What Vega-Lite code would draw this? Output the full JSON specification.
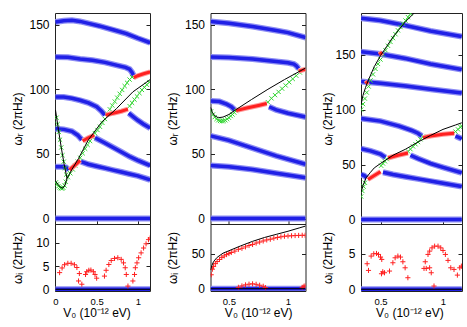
{
"$schema":"https://vega.github.io/schema/vega-lite/v6.json",
"padding":{"left":11,"top":12,"right":4,"bottom":4},
"spacing":14.5,
"config":{
 "view":{"stroke":"#222","strokeWidth":1},
 "axis":{"grid":false,"domain":false,"ticks":true,"tickSize":-4,"tickColor":"#222","labelFont":"Liberation Sans","labelFontSize":12,"labelColor":"#000","titleFont":"Liberation Sans","titleFontSize":12,"titleFontWeight":"normal","titleColor":"#000","labelFlush":false,"minExtent":0},
 "axisX":{"labelFontSize":9.5,"labelPadding":9},
 "axisY":{"labelPadding":10}
},
"datasets":{
"p1t":[
{"g":"b","k":"A","x":0,"y":152},{"g":"b","k":"A","x":0.1,"y":153},{"g":"b","k":"A","x":0.2,"y":153.3},{"g":"b","k":"A","x":0.3,"y":152.5},{"g":"b","k":"A","x":0.4,"y":151},{"g":"b","k":"A","x":0.53,"y":149},{"g":"b","k":"A","x":0.7,"y":146},{"g":"b","k":"A","x":0.86,"y":143},{"g":"b","k":"A","x":1,"y":139.5},{"g":"b","k":"A","x":1.15,"y":136},
{"g":"b","k":"B","x":0,"y":125},{"g":"b","k":"B","x":0.15,"y":124.8},{"g":"b","k":"B","x":0.3,"y":123.5},{"g":"b","k":"B","x":0.45,"y":122.5},{"g":"b","k":"B","x":0.6,"y":120.8},{"g":"b","k":"B","x":0.75,"y":118.5},{"g":"b","k":"B","x":0.85,"y":117},{"g":"b","k":"B","x":0.9,"y":115.5},{"g":"b","k":"B","x":0.93,"y":113},{"g":"b","k":"B","x":0.95,"y":110.5},
{"g":"b","k":"C1","x":0,"y":94},{"g":"b","k":"C1","x":0.1,"y":94},{"g":"b","k":"C1","x":0.2,"y":93},{"g":"b","k":"C1","x":0.3,"y":91.5},{"g":"b","k":"C1","x":0.4,"y":89.5},{"g":"b","k":"C1","x":0.5,"y":86.5},{"g":"b","k":"C1","x":0.56,"y":83},{"g":"b","k":"C1","x":0.6,"y":80},
{"g":"b","k":"C2","x":0.89,"y":81.5},{"g":"b","k":"C2","x":0.95,"y":78.5},{"g":"b","k":"C2","x":1,"y":76},{"g":"b","k":"C2","x":1.07,"y":73},{"g":"b","k":"C2","x":1.15,"y":70},
{"g":"b","k":"D1","x":0,"y":69.5},{"g":"b","k":"D1","x":0.1,"y":69},{"g":"b","k":"D1","x":0.2,"y":67.5},{"g":"b","k":"D1","x":0.27,"y":64.5},{"g":"b","k":"D1","x":0.32,"y":61},
{"g":"b","k":"D2","x":0.48,"y":62.5},{"g":"b","k":"D2","x":0.6,"y":58.5},{"g":"b","k":"D2","x":0.7,"y":55},{"g":"b","k":"D2","x":0.8,"y":51.5},{"g":"b","k":"D2","x":0.9,"y":48},{"g":"b","k":"D2","x":1,"y":45},{"g":"b","k":"D2","x":1.15,"y":41},
{"g":"b","k":"E1","x":0,"y":40},{"g":"b","k":"E1","x":0.08,"y":40},{"g":"b","k":"E1","x":0.13,"y":39.5},{"g":"b","k":"E1","x":0.16,"y":37.5},
{"g":"b","k":"E2","x":0.31,"y":44},{"g":"b","k":"E2","x":0.4,"y":42},{"g":"b","k":"E2","x":0.5,"y":40.5},{"g":"b","k":"E2","x":0.6,"y":39},{"g":"b","k":"E2","x":0.7,"y":37.5},{"g":"b","k":"E2","x":0.8,"y":36},{"g":"b","k":"E2","x":0.9,"y":34.5},{"g":"b","k":"E2","x":1,"y":33},{"g":"b","k":"E2","x":1.15,"y":30},
{"g":"b","k":"Z","x":0,"y":0},{"g":"b","k":"Z","x":1.15,"y":0},
{"g":"r","k":"RB","x":0.95,"y":109},{"g":"r","k":"RB","x":1,"y":110.5},{"g":"r","k":"RB","x":1.07,"y":112},{"g":"r","k":"RB","x":1.15,"y":113.5},
{"g":"r","k":"RC","x":0.61,"y":80},{"g":"r","k":"RC","x":0.7,"y":81.5},{"g":"r","k":"RC","x":0.8,"y":83},{"g":"r","k":"RC","x":0.88,"y":84.6},
{"g":"r","k":"RD","x":0.33,"y":60},{"g":"r","k":"RD","x":0.4,"y":62.5},{"g":"r","k":"RD","x":0.47,"y":64.5},
{"g":"r","k":"RE","x":0.17,"y":37.6},{"g":"r","k":"RE","x":0.23,"y":41},{"g":"r","k":"RE","x":0.3,"y":45},
{"g":"k","k":"K1","x":0,"y":84},{"g":"k","k":"K1","x":0.035,"y":69},{"g":"k","k":"K1","x":0.07,"y":55},{"g":"k","k":"K1","x":0.105,"y":42},{"g":"k","k":"K1","x":0.14,"y":31},{"g":"k","k":"K1","x":0.2,"y":38},{"g":"k","k":"K1","x":0.28,"y":46.5},{"g":"k","k":"K1","x":0.4,"y":61},{"g":"k","k":"K1","x":0.56,"y":74.5},{"g":"k","k":"K1","x":0.74,"y":85},{"g":"k","k":"K1","x":0.94,"y":98},{"g":"k","k":"K1","x":1.15,"y":107.5},
{"g":"k","k":"K2","x":0,"y":29},{"g":"k","k":"K2","x":0.03,"y":26.5},{"g":"k","k":"K2","x":0.06,"y":24.2},{"g":"k","k":"K2","x":0.09,"y":23.5},{"g":"k","k":"K2","x":0.115,"y":26},{"g":"k","k":"K2","x":0.14,"y":31},
{"g":"g","x":0.005,"y":28},{"g":"g","x":0.02,"y":26.5},{"g":"g","x":0.035,"y":25},{"g":"g","x":0.05,"y":24},{"g":"g","x":0.065,"y":23.5},{"g":"g","x":0.08,"y":23.2},{"g":"g","x":0.095,"y":23.8},{"g":"g","x":0.11,"y":25.5},{"g":"g","x":0.125,"y":28.5},
{"g":"g","x":0.012,"y":78},{"g":"g","x":0.025,"y":73},{"g":"g","x":0.04,"y":67},{"g":"g","x":0.055,"y":61},{"g":"g","x":0.07,"y":55},{"g":"g","x":0.085,"y":49},{"g":"g","x":0.1,"y":44},{"g":"g","x":0.115,"y":39},{"g":"g","x":0.13,"y":34},
{"g":"g","x":0.15,"y":32},{"g":"g","x":0.18,"y":35},{"g":"g","x":0.21,"y":38},{"g":"g","x":0.24,"y":41},{"g":"g","x":0.27,"y":44},{"g":"g","x":0.3,"y":47},{"g":"g","x":0.33,"y":50.5},{"g":"g","x":0.36,"y":54},{"g":"g","x":0.39,"y":57},{"g":"g","x":0.42,"y":60},{"g":"g","x":0.45,"y":63},{"g":"g","x":0.48,"y":66},{"g":"g","x":0.51,"y":68.5},{"g":"g","x":0.54,"y":71},{"g":"g","x":0.57,"y":74},{"g":"g","x":0.6,"y":77},
{"g":"g","x":0.63,"y":81},{"g":"g","x":0.66,"y":84.5},{"g":"g","x":0.69,"y":87.5},{"g":"g","x":0.72,"y":90.5},{"g":"g","x":0.75,"y":93.5},{"g":"g","x":0.78,"y":96.5},{"g":"g","x":0.81,"y":99.5},{"g":"g","x":0.84,"y":102.5},{"g":"g","x":0.87,"y":105},{"g":"g","x":0.9,"y":107.5},{"g":"g","x":0.93,"y":109.5},
{"g":"g","x":0.9,"y":87},{"g":"g","x":0.93,"y":89.5},{"g":"g","x":0.96,"y":92},{"g":"g","x":0.99,"y":94.5},{"g":"g","x":1.02,"y":97},{"g":"g","x":1.05,"y":99.5},{"g":"g","x":1.08,"y":101.5},{"g":"g","x":1.11,"y":103.5},{"g":"g","x":1.14,"y":105.5}
],
"p1b":[
{"g":"b","k":"Z","x":0,"y":0},{"g":"b","k":"Z","x":1.15,"y":0},
{"g":"k","k":"Z","x":0,"y":0},{"g":"k","k":"Z","x":1.15,"y":0},
{"g":"p","x":0.05,"y":3.6},{"g":"p","x":0.08,"y":4.6},{"g":"p","x":0.11,"y":5.3},{"g":"p","x":0.15,"y":5.6},{"g":"p","x":0.19,"y":5.6},{"g":"p","x":0.23,"y":5.3},{"g":"p","x":0.26,"y":4.7},{"g":"p","x":0.29,"y":3.4},{"g":"p","x":0.28,"y":1.8},{"g":"p","x":0.32,"y":1.1},
{"g":"p","x":0.365,"y":3.2},{"g":"p","x":0.38,"y":3.8},{"g":"p","x":0.405,"y":4.1},{"g":"p","x":0.43,"y":4.15},{"g":"p","x":0.46,"y":3.8},{"g":"p","x":0.48,"y":3.2},{"g":"p","x":0.5,"y":2.4},
{"g":"p","x":0.595,"y":2.85},{"g":"p","x":0.615,"y":4.1},{"g":"p","x":0.648,"y":5.35},{"g":"p","x":0.677,"y":6.2},{"g":"p","x":0.717,"y":6.65},{"g":"p","x":0.757,"y":6.8},{"g":"p","x":0.798,"y":6.45},{"g":"p","x":0.826,"y":5.7},{"g":"p","x":0.847,"y":4.65},{"g":"p","x":0.86,"y":3.2},{"g":"p","x":0.88,"y":0.7},
{"g":"p","x":0.94,"y":1.8},{"g":"p","x":0.96,"y":3.2},{"g":"p","x":0.97,"y":4.65},{"g":"p","x":0.99,"y":5.7},{"g":"p","x":1.01,"y":6.8},{"g":"p","x":1.04,"y":7.85},{"g":"p","x":1.07,"y":8.9},{"g":"p","x":1.1,"y":9.8},{"g":"p","x":1.13,"y":10.7},{"g":"p","x":1.15,"y":11.05}
],
"p2t":[
{"g":"b","k":"A","x":0.345,"y":152.5},{"g":"b","k":"A","x":0.5,"y":151},{"g":"b","k":"A","x":0.7,"y":148.5},{"g":"b","k":"A","x":0.9,"y":145.5},{"g":"b","k":"A","x":1,"y":143.8},{"g":"b","k":"A","x":1.15,"y":140},
{"g":"b","k":"B","x":0.345,"y":125},{"g":"b","k":"B","x":0.5,"y":124.5},{"g":"b","k":"B","x":0.7,"y":123.5},{"g":"b","k":"B","x":0.9,"y":121.5},{"g":"b","k":"B","x":1,"y":120.5},{"g":"b","k":"B","x":1.05,"y":119.5},{"g":"b","k":"B","x":1.07,"y":118.2},{"g":"b","k":"B","x":1.09,"y":116},
{"g":"b","k":"C1","x":0.345,"y":91},{"g":"b","k":"C1","x":0.42,"y":90.5},{"g":"b","k":"C1","x":0.48,"y":88.5},{"g":"b","k":"C1","x":0.52,"y":86.5},{"g":"b","k":"C1","x":0.55,"y":84},
{"g":"b","k":"C2","x":0.84,"y":86.5},{"g":"b","k":"C2","x":0.9,"y":84},{"g":"b","k":"C2","x":1,"y":81.5},{"g":"b","k":"C2","x":1.15,"y":78.5},
{"g":"b","k":"D","x":0.345,"y":64},{"g":"b","k":"D","x":0.5,"y":60.5},{"g":"b","k":"D","x":0.7,"y":54.5},{"g":"b","k":"D","x":0.9,"y":48.5},{"g":"b","k":"D","x":1.15,"y":42},
{"g":"b","k":"E","x":0.345,"y":41},{"g":"b","k":"E","x":0.5,"y":40},{"g":"b","k":"E","x":0.7,"y":38},{"g":"b","k":"E","x":0.9,"y":35},{"g":"b","k":"E","x":1.15,"y":31.5},
{"g":"b","k":"Z","x":0.345,"y":0},{"g":"b","k":"Z","x":1.15,"y":0},
{"g":"r","k":"RB","x":1.09,"y":114},{"g":"r","k":"RB","x":1.12,"y":114.8},{"g":"r","k":"RB","x":1.15,"y":115.5},
{"g":"r","k":"RC","x":0.56,"y":83.5},{"g":"r","k":"RC","x":0.65,"y":85.5},{"g":"r","k":"RC","x":0.75,"y":87.5},{"g":"r","k":"RC","x":0.82,"y":89},
{"g":"k","k":"K","x":0.345,"y":86},{"g":"k","k":"K","x":0.36,"y":82},{"g":"k","k":"K","x":0.38,"y":79.5},{"g":"k","k":"K","x":0.41,"y":78},{"g":"k","k":"K","x":0.45,"y":78.5},{"g":"k","k":"K","x":0.5,"y":80.5},{"g":"k","k":"K","x":0.56,"y":84.3},{"g":"k","k":"K","x":0.69,"y":92},{"g":"k","k":"K","x":0.83,"y":100},{"g":"k","k":"K","x":0.97,"y":107.5},{"g":"k","k":"K","x":1.15,"y":116.5},
{"g":"g","x":0.35,"y":83},{"g":"g","x":0.365,"y":80.5},{"g":"g","x":0.38,"y":78.5},{"g":"g","x":0.395,"y":77},{"g":"g","x":0.41,"y":76},{"g":"g","x":0.425,"y":75.5},{"g":"g","x":0.44,"y":75.3},{"g":"g","x":0.455,"y":75.5},{"g":"g","x":0.47,"y":76},{"g":"g","x":0.485,"y":77},{"g":"g","x":0.5,"y":78},{"g":"g","x":0.515,"y":79.3},{"g":"g","x":0.53,"y":80.5},{"g":"g","x":0.545,"y":82},{"g":"g","x":0.56,"y":83.3},
{"g":"g","x":0.83,"y":90},{"g":"g","x":0.86,"y":93},{"g":"g","x":0.89,"y":95.5},{"g":"g","x":0.92,"y":98},{"g":"g","x":0.95,"y":100.5},{"g":"g","x":0.98,"y":103},{"g":"g","x":1.01,"y":105.5},{"g":"g","x":1.04,"y":108},{"g":"g","x":1.07,"y":110.5},{"g":"g","x":1.1,"y":113},{"g":"g","x":1.13,"y":115}
],
"p2b":[
{"g":"b","k":"Z","x":0.345,"y":0},{"g":"b","k":"Z","x":1.15,"y":0},
{"g":"k","k":"Z","x":0.345,"y":0},{"g":"k","k":"Z","x":1.15,"y":0},
{"g":"k","k":"K","x":0.345,"y":27},{"g":"k","k":"K","x":0.355,"y":33},{"g":"k","k":"K","x":0.37,"y":39},{"g":"k","k":"K","x":0.4,"y":45},{"g":"k","k":"K","x":0.45,"y":51},{"g":"k","k":"K","x":0.5,"y":54.5},{"g":"k","k":"K","x":0.6,"y":61.5},{"g":"k","k":"K","x":0.7,"y":68},{"g":"k","k":"K","x":0.8,"y":73.5},{"g":"k","k":"K","x":0.9,"y":78},{"g":"k","k":"K","x":1,"y":82.5},{"g":"k","k":"K","x":1.1,"y":87.5},{"g":"k","k":"K","x":1.15,"y":90},
{"g":"p","x":0.35,"y":20},{"g":"p","x":0.36,"y":28},{"g":"p","x":0.37,"y":32},{"g":"p","x":0.385,"y":36},{"g":"p","x":0.4,"y":39},{"g":"p","x":0.42,"y":42},{"g":"p","x":0.44,"y":45},{"g":"p","x":0.46,"y":47},{"g":"p","x":0.48,"y":49},{"g":"p","x":0.5,"y":50.5},{"g":"p","x":0.52,"y":52},{"g":"p","x":0.55,"y":54},{"g":"p","x":0.58,"y":56.5},{"g":"p","x":0.61,"y":58},{"g":"p","x":0.64,"y":60},{"g":"p","x":0.67,"y":62},{"g":"p","x":0.7,"y":63.5},{"g":"p","x":0.73,"y":65.5},{"g":"p","x":0.76,"y":67},{"g":"p","x":0.79,"y":68.5},{"g":"p","x":0.82,"y":70},{"g":"p","x":0.85,"y":71},{"g":"p","x":0.88,"y":72.5},{"g":"p","x":0.91,"y":73.5},{"g":"p","x":0.94,"y":74.5},{"g":"p","x":0.97,"y":75.3},{"g":"p","x":1,"y":75.7},{"g":"p","x":1.03,"y":76},{"g":"p","x":1.06,"y":76.3},{"g":"p","x":1.09,"y":76.5},{"g":"p","x":1.12,"y":76.7},{"g":"p","x":1.145,"y":76.7},
{"g":"p","x":0.58,"y":2},{"g":"p","x":0.61,"y":4},{"g":"p","x":0.64,"y":5.5},{"g":"p","x":0.67,"y":6.5},{"g":"p","x":0.7,"y":7},{"g":"p","x":0.73,"y":6.3},{"g":"p","x":0.76,"y":5},{"g":"p","x":0.79,"y":3.5},{"g":"p","x":0.81,"y":1.5},
{"g":"p","x":1.12,"y":2},{"g":"p","x":1.135,"y":3.5},{"g":"p","x":1.145,"y":4}
],
"p3t":[
{"g":"b","k":"A","x":0.345,"y":183},{"g":"b","k":"A","x":0.5,"y":181},{"g":"b","k":"A","x":0.7,"y":176.5},{"g":"b","k":"A","x":0.9,"y":171.5},{"g":"b","k":"A","x":1.15,"y":166.5},
{"g":"b","k":"B","x":0.345,"y":152.5},{"g":"b","k":"B","x":0.5,"y":150.5},{"g":"b","k":"B","x":0.7,"y":146.5},{"g":"b","k":"B","x":0.9,"y":141.5},{"g":"b","k":"B","x":1.15,"y":136.5},
{"g":"b","k":"C","x":0.345,"y":125.5},{"g":"b","k":"C","x":0.5,"y":124},{"g":"b","k":"C","x":0.7,"y":121.5},{"g":"b","k":"C","x":0.9,"y":118.5},{"g":"b","k":"C","x":1.15,"y":115},
{"g":"b","k":"D1","x":0.345,"y":92},{"g":"b","k":"D1","x":0.5,"y":89.5},{"g":"b","k":"D1","x":0.65,"y":85},{"g":"b","k":"D1","x":0.75,"y":81},{"g":"b","k":"D1","x":0.8,"y":78.5},{"g":"b","k":"D1","x":0.83,"y":76},
{"g":"b","k":"D2","x":1.1,"y":76},{"g":"b","k":"D2","x":1.13,"y":74.5},{"g":"b","k":"D2","x":1.15,"y":73.5},
{"g":"b","k":"E1","x":0.345,"y":64.5},{"g":"b","k":"E1","x":0.42,"y":62.5},{"g":"b","k":"E1","x":0.5,"y":59.5},{"g":"b","k":"E1","x":0.54,"y":56.5},
{"g":"b","k":"E2","x":0.74,"y":58.5},{"g":"b","k":"E2","x":0.8,"y":55.5},{"g":"b","k":"E2","x":0.9,"y":51},{"g":"b","k":"E2","x":1,"y":47.5},{"g":"b","k":"E2","x":1.15,"y":42.5},
{"g":"b","k":"F1","x":0.345,"y":41},{"g":"b","k":"F1","x":0.37,"y":40},{"g":"b","k":"F1","x":0.39,"y":38},
{"g":"b","k":"F2","x":0.52,"y":43},{"g":"b","k":"F2","x":0.6,"y":41},{"g":"b","k":"F2","x":0.7,"y":39},{"g":"b","k":"F2","x":0.8,"y":37},{"g":"b","k":"F2","x":0.9,"y":35},{"g":"b","k":"F2","x":1,"y":33},{"g":"b","k":"F2","x":1.15,"y":30},
{"g":"b","k":"Z","x":0.345,"y":0},{"g":"b","k":"Z","x":1.15,"y":0},
{"g":"r","k":"RD","x":0.84,"y":74.5},{"g":"r","k":"RD","x":0.9,"y":76},{"g":"r","k":"RD","x":1,"y":77.5},{"g":"r","k":"RD","x":1.09,"y":78.5},
{"g":"r","k":"RE","x":0.56,"y":56},{"g":"r","k":"RE","x":0.64,"y":58.5},{"g":"r","k":"RE","x":0.72,"y":60.5},
{"g":"r","k":"RF","x":0.4,"y":36.5},{"g":"r","k":"RF","x":0.45,"y":40},{"g":"r","k":"RF","x":0.5,"y":43.5},
{"g":"r","k":"RC","x":0.38,"y":123.5},{"g":"r","k":"RC","x":0.4,"y":125.5},
{"g":"r","k":"RB","x":0.49,"y":150},{"g":"r","k":"RB","x":0.515,"y":152},
{"g":"k","k":"KL","x":0.345,"y":25},{"g":"k","k":"KL","x":0.36,"y":31},{"g":"k","k":"KL","x":0.385,"y":38},{"g":"k","k":"KL","x":0.42,"y":43},{"g":"k","k":"KL","x":0.45,"y":47},{"g":"k","k":"KL","x":0.5,"y":51},{"g":"k","k":"KL","x":0.6,"y":58.5},{"g":"k","k":"KL","x":0.7,"y":64},{"g":"k","k":"KL","x":0.8,"y":70.5},{"g":"k","k":"KL","x":0.9,"y":76.5},{"g":"k","k":"KL","x":1,"y":82},{"g":"k","k":"KL","x":1.1,"y":86},{"g":"k","k":"KL","x":1.15,"y":88},
{"g":"k","k":"KU","x":0.345,"y":105},{"g":"k","k":"KU","x":0.36,"y":113},{"g":"k","k":"KU","x":0.38,"y":120},{"g":"k","k":"KU","x":0.4,"y":126},{"g":"k","k":"KU","x":0.45,"y":139},{"g":"k","k":"KU","x":0.5,"y":149},{"g":"k","k":"KU","x":0.55,"y":157.5},{"g":"k","k":"KU","x":0.6,"y":166},{"g":"k","k":"KU","x":0.65,"y":173},{"g":"k","k":"KU","x":0.7,"y":180},{"g":"k","k":"KU","x":0.75,"y":185.5},{"g":"k","k":"KU","x":0.78,"y":189},
{"g":"g","x":0.345,"y":100},{"g":"g","x":0.36,"y":105},{"g":"g","x":0.375,"y":110},{"g":"g","x":0.39,"y":115.5},{"g":"g","x":0.405,"y":121},{"g":"g","x":0.42,"y":126.5},{"g":"g","x":0.44,"y":132},{"g":"g","x":0.46,"y":137},{"g":"g","x":0.48,"y":141.5},{"g":"g","x":0.5,"y":145.5},{"g":"g","x":0.52,"y":150},{"g":"g","x":0.54,"y":154},{"g":"g","x":0.56,"y":158},{"g":"g","x":0.58,"y":161.5},{"g":"g","x":0.6,"y":165},{"g":"g","x":0.62,"y":168.5},{"g":"g","x":0.64,"y":172},{"g":"g","x":0.66,"y":175},{"g":"g","x":0.68,"y":178},{"g":"g","x":0.7,"y":181},{"g":"g","x":0.72,"y":184},{"g":"g","x":0.74,"y":187},
{"g":"g","x":0.345,"y":21},{"g":"g","x":0.355,"y":26},{"g":"g","x":0.365,"y":30},{"g":"g","x":0.375,"y":33.5},{"g":"g","x":0.505,"y":49},{"g":"g","x":0.52,"y":51},{"g":"g","x":0.535,"y":53},{"g":"g","x":0.55,"y":55},{"g":"g","x":0.72,"y":62},{"g":"g","x":0.74,"y":64},{"g":"g","x":0.76,"y":66.5},{"g":"g","x":0.78,"y":68.5},{"g":"g","x":0.8,"y":70.5},{"g":"g","x":0.82,"y":73},{"g":"g","x":0.84,"y":75.5},{"g":"g","x":1.1,"y":80},{"g":"g","x":1.12,"y":82},{"g":"g","x":1.14,"y":84},{"g":"g","x":1.15,"y":85}
],
"p3b":[
{"g":"b","k":"Z","x":0.345,"y":0},{"g":"b","k":"Z","x":1.15,"y":0},
{"g":"k","k":"Z","x":0.345,"y":0},{"g":"k","k":"Z","x":1.15,"y":0},
{"g":"p","x":0.393,"y":3.6},{"g":"p","x":0.404,"y":2.66},{"g":"p","x":0.425,"y":4.68},{"g":"p","x":0.446,"y":5.0},{"g":"p","x":0.468,"y":5.05},{"g":"p","x":0.484,"y":4.91},{"g":"p","x":0.5,"y":4.54},{"g":"p","x":0.51,"y":4.21},{"g":"p","x":0.518,"y":2.47},{"g":"p","x":0.508,"y":2.19},{"g":"p","x":0.532,"y":2.33},
{"g":"p","x":0.572,"y":2.57},{"g":"p","x":0.599,"y":3.74},{"g":"p","x":0.617,"y":4.44},{"g":"p","x":0.639,"y":4.68},{"g":"p","x":0.66,"y":4.54},{"g":"p","x":0.679,"y":3.88},{"g":"p","x":0.697,"y":3.03},{"g":"p","x":0.719,"y":1.63},
{"g":"p","x":0.848,"y":2.94},{"g":"p","x":0.858,"y":3.88},{"g":"p","x":0.866,"y":2.94},{"g":"p","x":0.88,"y":4.91},{"g":"p","x":0.893,"y":5.38},{"g":"p","x":0.912,"y":5.84},{"g":"p","x":0.933,"y":6.08},{"g":"p","x":0.96,"y":6.08},{"g":"p","x":0.982,"y":5.84},{"g":"p","x":1.0,"y":5.47},{"g":"p","x":1.019,"y":4.91},{"g":"p","x":1.04,"y":4.07},{"g":"p","x":1.062,"y":3.03},{"g":"p","x":0.893,"y":3.03},{"g":"p","x":0.906,"y":2.33},{"g":"p","x":0.928,"y":0.46},
{"g":"p","x":1.088,"y":2.8},{"g":"p","x":1.115,"y":2.0},{"g":"p","x":1.134,"y":3.03},{"g":"p","x":1.147,"y":3.26}
]
},
"hconcat":[
{"spacing":0,"bounds":"flush","vconcat":[
 {"width":95,"height":211,"data":{"name":"p1t"},
  "layer":[
   {"transform":[{"filter":"datum.g=='b'"}],"mark":{"type":"line","color":"#8c8cf4","strokeWidth":6,"clip":true},
    "encoding":{"x":{"field":"x","type":"quantitative","scale":{"domain":[-0.006,1.148],"nice":false,"zero":false},"axis":{"values":[0,0.5,1],"labels":false,"title":null}},
     "y":{"field":"y","type":"quantitative","scale":{"domain":[-4.2,159],"nice":false,"zero":false},"axis":{"values":[0,50,100,150],"title":"ωᵣ (2πHz)","titleX":-37.5,"titleBaseline":"middle"}},"detail":{"field":"k"}}},
   {"transform":[{"filter":"datum.g=='b'"}],"mark":{"type":"line","color":"#2020e6","strokeWidth":3.5,"clip":true},
    "encoding":{"x":{"field":"x","type":"quantitative"},"y":{"field":"y","type":"quantitative","axis":null},"detail":{"field":"k"}}},
   {"transform":[{"filter":"datum.g=='g'"}],"mark":{"type":"point","shape":"M-1,-1L1,1M-1,1L1,-1","filled":false,"color":"#33d633","strokeWidth":1,"size":18,"opacity":1,"clip":true},
    "encoding":{"x":{"field":"x","type":"quantitative"},"y":{"field":"y","type":"quantitative","axis":null}}},
   {"transform":[{"filter":"datum.g=='r'"}],"mark":{"type":"line","color":"#ff9a9a","strokeWidth":5,"clip":true},
    "encoding":{"x":{"field":"x","type":"quantitative"},"y":{"field":"y","type":"quantitative","axis":null},"detail":{"field":"k"}}},
   {"transform":[{"filter":"datum.g=='r'"}],"mark":{"type":"line","color":"#ff2020","strokeWidth":3,"clip":true},
    "encoding":{"x":{"field":"x","type":"quantitative"},"y":{"field":"y","type":"quantitative","axis":null},"detail":{"field":"k"}}},
   {"transform":[{"filter":"datum.g=='k'"}],"mark":{"type":"line","color":"#000","strokeWidth":1,"clip":true},
    "encoding":{"x":{"field":"x","type":"quantitative"},"y":{"field":"y","type":"quantitative","axis":{"orient":"right","values":[0,50,100,150],"labels":false,"title":null}},"detail":{"field":"k"}}}
  ],
  "resolve":{"axis":{"y":"independent"}}},
 {"width":95,"height":67,"data":{"name":"p1b"},
  "layer":[
   {"transform":[{"filter":"datum.g=='b'"}],"mark":{"type":"line","color":"#8c8cf4","strokeWidth":6,"clip":true},
    "encoding":{"x":{"field":"x","type":"quantitative","scale":{"domain":[-0.006,1.148],"nice":false,"zero":false},"axis":{"values":[0,0.5,1],"format":"~g","title":"V₀ (10⁻¹² eV)","titleX":41.5,"titleY":25,"titleBaseline":"alphabetic"}},
     "y":{"field":"y","type":"quantitative","scale":{"domain":[-0.36,14.07],"nice":false,"zero":false},"axis":{"values":[0,5,10],"title":"ωᵢ (2πHz)","titleX":-37.5,"titleBaseline":"middle"}},"detail":{"field":"k"}}},
   {"transform":[{"filter":"datum.g=='b'"}],"mark":{"type":"line","color":"#2020e6","strokeWidth":3.5,"clip":true},
    "encoding":{"x":{"field":"x","type":"quantitative"},"y":{"field":"y","type":"quantitative","axis":null},"detail":{"field":"k"}}},
   {"transform":[{"filter":"datum.g=='p'"}],"mark":{"type":"point","shape":"M-1,0L1,0M0,-1L0,1","filled":false,"color":"#ff2020","strokeWidth":1,"size":26,"opacity":1,"clip":true},
    "encoding":{"x":{"field":"x","type":"quantitative"},"y":{"field":"y","type":"quantitative","axis":null}}},
   {"transform":[{"filter":"datum.g=='k'"}],"mark":{"type":"line","color":"#000","strokeWidth":1,"clip":true},
    "encoding":{"x":{"field":"x","type":"quantitative"},"y":{"field":"y","type":"quantitative","axis":{"orient":"right","values":[0,5,10],"labels":false,"title":null}},"detail":{"field":"k"}}}
  ],
  "resolve":{"axis":{"y":"independent"}}}
]},
{"spacing":0,"bounds":"flush","vconcat":[
 {"width":95,"height":211,"data":{"name":"p2t"},
  "layer":[
   {"transform":[{"filter":"datum.g=='b'"}],"mark":{"type":"line","color":"#8c8cf4","strokeWidth":6,"clip":true},
    "encoding":{"x":{"field":"x","type":"quantitative","scale":{"domain":[0.344,1.148],"nice":false,"zero":false},"axis":{"values":[0.5,1],"labels":false,"title":null}},
     "y":{"field":"y","type":"quantitative","scale":{"domain":[-4.2,159],"nice":false,"zero":false},"axis":{"values":[0,50,100,150],"title":"ωᵣ (2πHz)","titleX":-38.3,"titleBaseline":"middle"}},"detail":{"field":"k"}}},
   {"transform":[{"filter":"datum.g=='b'"}],"mark":{"type":"line","color":"#2020e6","strokeWidth":3.5,"clip":true},
    "encoding":{"x":{"field":"x","type":"quantitative"},"y":{"field":"y","type":"quantitative","axis":null},"detail":{"field":"k"}}},
   {"transform":[{"filter":"datum.g=='g'"}],"mark":{"type":"point","shape":"M-1,-1L1,1M-1,1L1,-1","filled":false,"color":"#33d633","strokeWidth":1,"size":18,"opacity":1,"clip":true},
    "encoding":{"x":{"field":"x","type":"quantitative"},"y":{"field":"y","type":"quantitative","axis":null}}},
   {"transform":[{"filter":"datum.g=='r'"}],"mark":{"type":"line","color":"#ff9a9a","strokeWidth":5,"clip":true},
    "encoding":{"x":{"field":"x","type":"quantitative"},"y":{"field":"y","type":"quantitative","axis":null},"detail":{"field":"k"}}},
   {"transform":[{"filter":"datum.g=='r'"}],"mark":{"type":"line","color":"#ff2020","strokeWidth":3,"clip":true},
    "encoding":{"x":{"field":"x","type":"quantitative"},"y":{"field":"y","type":"quantitative","axis":null},"detail":{"field":"k"}}},
   {"transform":[{"filter":"datum.g=='k'"}],"mark":{"type":"line","color":"#000","strokeWidth":1,"clip":true},
    "encoding":{"x":{"field":"x","type":"quantitative"},"y":{"field":"y","type":"quantitative","axis":{"orient":"right","values":[0,50,100,150],"labels":false,"title":null}},"detail":{"field":"k"}}}
  ],
  "resolve":{"axis":{"y":"independent"}}},
 {"width":95,"height":67,"data":{"name":"p2b"},
  "layer":[
   {"transform":[{"filter":"datum.g=='b'"}],"mark":{"type":"line","color":"#8c8cf4","strokeWidth":6,"clip":true},
    "encoding":{"x":{"field":"x","type":"quantitative","scale":{"domain":[0.344,1.148],"nice":false,"zero":false},"axis":{"values":[0.5,1],"format":"~g","title":"V₀ (10⁻¹² eV)","titleX":47.7,"titleY":25,"titleBaseline":"alphabetic"}},
     "y":{"field":"y","type":"quantitative","scale":{"domain":[-3.3,92.9],"nice":false,"zero":false},"axis":{"values":[0,50],"title":"ωᵢ (2πHz)","titleX":-38.3,"titleBaseline":"middle"}},"detail":{"field":"k"}}},
   {"transform":[{"filter":"datum.g=='b'"}],"mark":{"type":"line","color":"#2020e6","strokeWidth":3.5,"clip":true},
    "encoding":{"x":{"field":"x","type":"quantitative"},"y":{"field":"y","type":"quantitative","axis":null},"detail":{"field":"k"}}},
   {"transform":[{"filter":"datum.g=='p'"}],"mark":{"type":"point","shape":"M-1,0L1,0M0,-1L0,1","filled":false,"color":"#ff2020","strokeWidth":1,"size":26,"opacity":1,"clip":true},
    "encoding":{"x":{"field":"x","type":"quantitative"},"y":{"field":"y","type":"quantitative","axis":null}}},
   {"transform":[{"filter":"datum.g=='k'"}],"mark":{"type":"line","color":"#000","strokeWidth":1,"clip":true},
    "encoding":{"x":{"field":"x","type":"quantitative"},"y":{"field":"y","type":"quantitative","axis":{"orient":"right","values":[0,50],"labels":false,"title":null}},"detail":{"field":"k"}}}
  ],
  "resolve":{"axis":{"y":"independent"}}}
]},
{"spacing":0,"bounds":"flush","vconcat":[
 {"width":101,"height":211,"data":{"name":"p3t"},
  "layer":[
   {"transform":[{"filter":"datum.g=='b'"}],"mark":{"type":"line","color":"#8c8cf4","strokeWidth":6,"clip":true},
    "encoding":{"x":{"field":"x","type":"quantitative","scale":{"domain":[0.344,1.152],"nice":false,"zero":false},"axis":{"values":[0.5,1],"labels":false,"title":null}},
     "y":{"field":"y","type":"quantitative","scale":{"domain":[-4,187.8],"nice":false,"zero":false},"axis":{"values":[0,50,100,150],"title":"ωᵣ (2πHz)","titleX":-33.5,"titleBaseline":"middle"}},"detail":{"field":"k"}}},
   {"transform":[{"filter":"datum.g=='b'"}],"mark":{"type":"line","color":"#2020e6","strokeWidth":3.5,"clip":true},
    "encoding":{"x":{"field":"x","type":"quantitative"},"y":{"field":"y","type":"quantitative","axis":null},"detail":{"field":"k"}}},
   {"transform":[{"filter":"datum.g=='g'"}],"mark":{"type":"point","shape":"M-1,-1L1,1M-1,1L1,-1","filled":false,"color":"#33d633","strokeWidth":1,"size":18,"opacity":1,"clip":true},
    "encoding":{"x":{"field":"x","type":"quantitative"},"y":{"field":"y","type":"quantitative","axis":null}}},
   {"transform":[{"filter":"datum.g=='r'"}],"mark":{"type":"line","color":"#ff9a9a","strokeWidth":5,"clip":true},
    "encoding":{"x":{"field":"x","type":"quantitative"},"y":{"field":"y","type":"quantitative","axis":null},"detail":{"field":"k"}}},
   {"transform":[{"filter":"datum.g=='r'"}],"mark":{"type":"line","color":"#ff2020","strokeWidth":3,"clip":true},
    "encoding":{"x":{"field":"x","type":"quantitative"},"y":{"field":"y","type":"quantitative","axis":null},"detail":{"field":"k"}}},
   {"transform":[{"filter":"datum.g=='k'"}],"mark":{"type":"line","color":"#000","strokeWidth":1,"clip":true},
    "encoding":{"x":{"field":"x","type":"quantitative"},"y":{"field":"y","type":"quantitative","axis":{"orient":"right","values":[0,50,100,150],"labels":false,"title":null}},"detail":{"field":"k"}}}
  ],
  "resolve":{"axis":{"y":"independent"}}},
 {"width":101,"height":67,"data":{"name":"p3b"},
  "layer":[
   {"transform":[{"filter":"datum.g=='b'"}],"mark":{"type":"line","color":"#8c8cf4","strokeWidth":6,"clip":true},
    "encoding":{"x":{"field":"x","type":"quantitative","scale":{"domain":[0.344,1.152],"nice":false,"zero":false},"axis":{"values":[0.5,1],"format":"~g","title":"V₀ (10⁻¹² eV)","titleX":48.4,"titleY":25,"titleBaseline":"alphabetic"}},
     "y":{"field":"y","type":"quantitative","scale":{"domain":[-0.24,9.2],"nice":false,"zero":false},"axis":{"values":[0,5],"title":"ωᵢ (2πHz)","titleX":-33.5,"titleBaseline":"middle"}},"detail":{"field":"k"}}},
   {"transform":[{"filter":"datum.g=='b'"}],"mark":{"type":"line","color":"#2020e6","strokeWidth":3.5,"clip":true},
    "encoding":{"x":{"field":"x","type":"quantitative"},"y":{"field":"y","type":"quantitative","axis":null},"detail":{"field":"k"}}},
   {"transform":[{"filter":"datum.g=='p'"}],"mark":{"type":"point","shape":"M-1,0L1,0M0,-1L0,1","filled":false,"color":"#ff2020","strokeWidth":1,"size":26,"opacity":1,"clip":true},
    "encoding":{"x":{"field":"x","type":"quantitative"},"y":{"field":"y","type":"quantitative","axis":null}}},
   {"transform":[{"filter":"datum.g=='k'"}],"mark":{"type":"line","color":"#000","strokeWidth":1,"clip":true},
    "encoding":{"x":{"field":"x","type":"quantitative"},"y":{"field":"y","type":"quantitative","axis":{"orient":"right","values":[0,5],"labels":false,"title":null}},"detail":{"field":"k"}}}
  ],
  "resolve":{"axis":{"y":"independent"}}}
]}
]
}
